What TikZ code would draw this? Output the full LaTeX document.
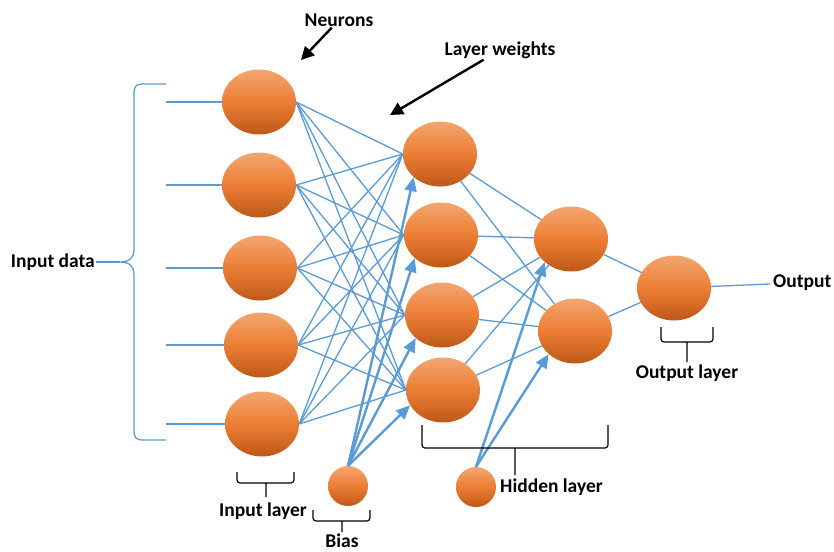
\documentclass[tikz,border=0pt]{standalone}
\usepackage{fontspec}
\setmainfont{Carlito}
\usetikzlibrary{arrows.meta,shapes.geometric}
\definecolor{nnB}{RGB}{91,155,213}
\definecolor{nnTop}{RGB}{243,166,112}
\definecolor{nnMid}{RGB}{236,126,52}
\definecolor{nnBot}{RGB}{190,88,24}

\begin{document}
\begin{tikzpicture}[x=1pt,y=-1pt,
 neuron/.style={ellipse,minimum width=74pt,minimum height=65pt,inner sep=0pt,top color=nnTop,bottom color=nnBot,middle color=nnMid},
 biasn/.style={circle,minimum size=40pt,inner sep=0pt,top color=nnTop,bottom color=nnBot,middle color=nnMid},
 wire/.style={nnB,line width=1.3pt},
 feed/.style={nnB,line width=2.4pt,-{Triangle[length=14pt,width=12pt]}},
 pointer/.style={black,line width=2.4pt,-{Triangle[length=13pt,width=13pt]}},
 bracket/.style={black,line width=1.2pt,rounded corners=3pt},
 lbl/.style={font=\fontsize{19.5}{22}\selectfont\bfseries,inner sep=1pt}]
\useasboundingbox (0,0) rectangle (834,551);
\foreach \n/\x/\y in {1/259/102,2/259/185,3/260/268,4/261/345,5/262/424} {
 \node[neuron] (i\n) at (\x,\y) {}; \coordinate (x\n) at (166,\y); \draw[wire] (x\n) -- (i\n); }
\foreach \n/\x/\y in {1/440/154,2/441/235,3/442/315,4/443/390} \node[neuron] (h\n) at (\x,\y) {};
\node[neuron] (k1) at (571,239) {}; \node[neuron] (k2) at (575,331) {};
\node[neuron] (o) at (674,288) {};
\node[biasn] (b1) at (348,486) {}; \node[biasn] (b2) at (476,487) {};
\foreach \a in {1,...,5} \foreach \b in {1,...,4} \draw[wire] (i\a.east) -- (h\b.west);
\foreach \a in {1,...,4} \foreach \b in {1,2} \draw[wire] (h\a) -- (k\b);
\draw[wire] (k1) -- (o); \draw[wire] (k2) -- (o);
\foreach \t in {h1.south west,h2.south west,h3.south west,h4.205} \draw[feed] (b1.north) -- (\t);
\foreach \t in {k1.south west,k2.south west} \draw[feed] (b2.north) -- (\t);
\node[lbl,anchor=west] (outlab) at (772,283) {Output};
\coordinate (oend) at (770,284); \draw[wire] (o) -- (oend);
\node[lbl,anchor=east] (dlab) at (96,262) {Input data};
\coordinate (tip) at (120,262); \draw[wire] (dlab) -- (tip);
\draw[wire] (166,84) -- (142,84) .. controls (136,84) and (134,87) .. (134,93) -- (134,250) .. controls (134,257) and (130,262) .. (tip)
 .. controls (130,262) and (134,267) .. (134,274) -- (134,431) .. controls (134,437) and (136,440) .. (142,440) -- (166,440);
\node[lbl] (neulab) at (339,20) {Neurons}; \coordinate (neutip) at (301,60); \draw[pointer] (neulab) -- (neutip);
\node[lbl] (wtlab) at (500,50) {Layer weights}; \coordinate (wttip) at (390,115); \draw[pointer] (wtlab) -- (wttip);
\foreach \l/\r/\t/\b/\s/\e in {237/294/472/483/266/497,313/370/510/521/342/532,422/608/425/448/515/475,661/713/327/342/687/362}
 \draw[bracket] (\l,\t) -- (\l,\b) -- (\r,\b) -- (\r,\t) (\s,\b) -- (\s,\e);
\node[lbl] (inlab) at (263,511) {Input layer};
\node[lbl] (blab) at (342,541) {Bias};
\node[lbl,anchor=west] (hlab) at (499,487) {Hidden layer};
\node[lbl] (olab) at (687,373) {Output layer};
\end{tikzpicture}
\end{document}
